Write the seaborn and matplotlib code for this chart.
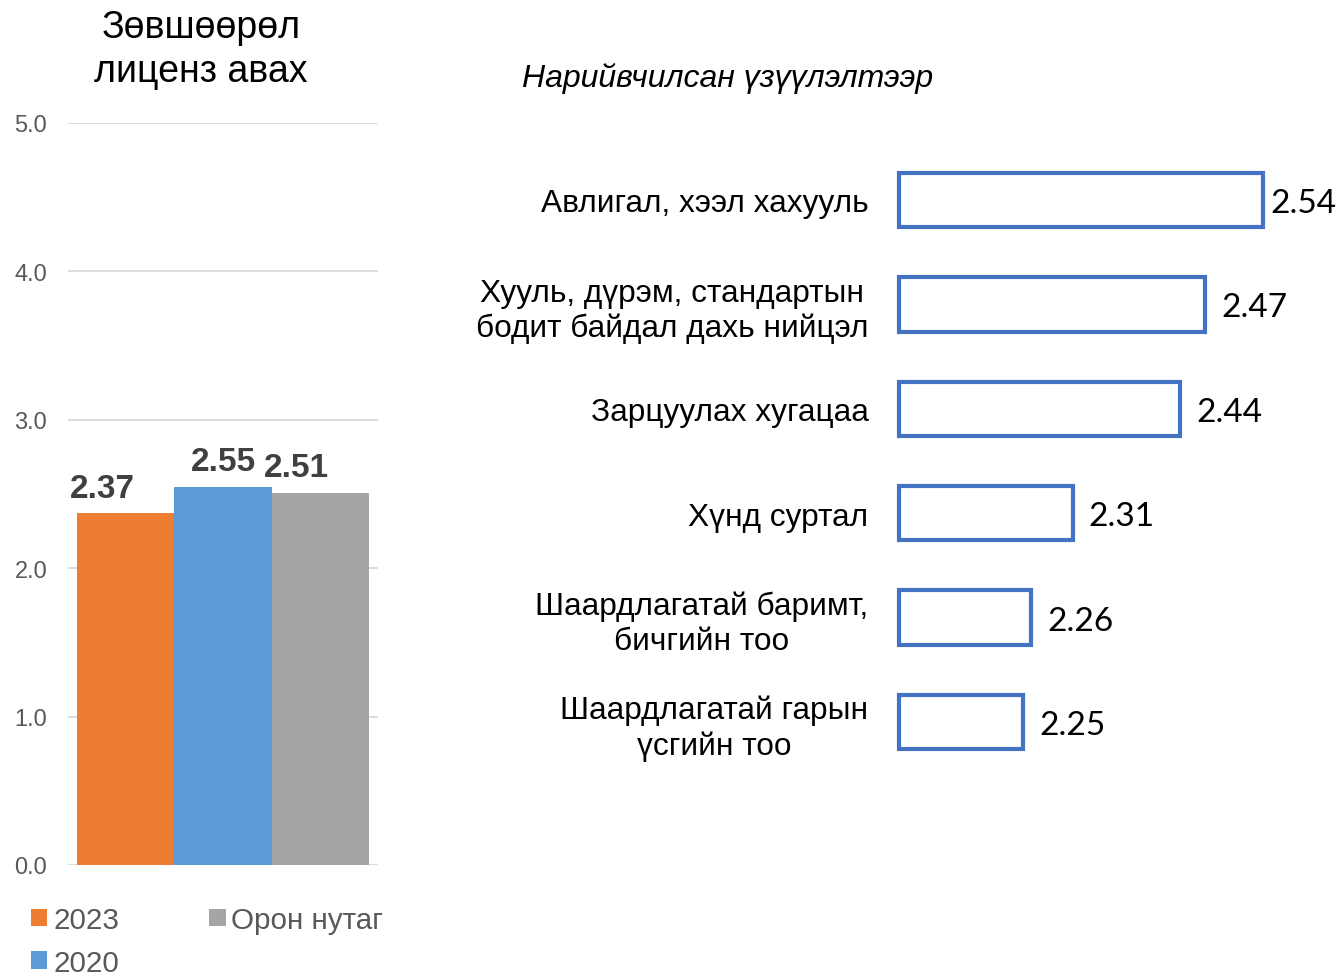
import matplotlib
matplotlib.use("Agg")
import matplotlib.pyplot as plt
import seaborn as sns
import pandas as pd
from matplotlib.patches import Patch

# ---- data ----
left_title = "Зөвшөөрөл\nлиценз авах"
series = ["2023", "2020", "Орон нутаг"]
series_values = [2.37, 2.55, 2.51]
series_colors = ["#ED7D31", "#5B9BD5", "#A5A5A5"]
yticks_left = [0.0, 1.0, 2.0, 3.0, 4.0, 5.0]

right_title = "Нарийвчилсан үзүүлэлтээр"
categories = [
    "Авлигал, хээл хахууль",
    "Хууль, дүрэм, стандартын\nбодит байдал дахь нийцэл",
    "Зарцуулах хугацаа",
    "Хүнд суртал",
    "Шаардлагатай баримт,\nбичгийн тоо",
    "Шаардлагатай гарын\nүсгийн тоо",
]
cat_values = [2.54, 2.47, 2.44, 2.31, 2.26, 2.25]
axis_start = 2.1

sns.set_theme(style="white")
plt.rcParams["font.family"] = ["Liberation Sans", "DejaVu Sans"]

W, H = 1337, 979
fig = plt.figure(figsize=(W / 100, H / 100), dpi=100)

# ---- left chart ----
ax1 = fig.add_axes([68 / W, 1 - 866 / H, 310 / W, (866 - 124) / H])
df = pd.DataFrame({"series": series, "value": series_values})
sns.barplot(data=df, x="series", y="value", hue="series", palette=series_colors,
            width=1.0, legend=False, ax=ax1, saturation=1, linewidth=0)
ax1.set_xlim(-0.593, 2.593)
ax1.set_ylim(0, 5)
ax1.set_yticks(yticks_left)
ax1.set_yticklabels([f"{t:.1f}" for t in yticks_left], fontsize=17, color="#595959")
ax1.set_xticks([])
ax1.set_xlabel("")
ax1.set_ylabel("")
ax1.tick_params(axis="y", length=0, pad=15)
ax1.grid(axis="y", color="#D9D9D9", lw=1.3)
ax1.set_axisbelow(True)
for s in ax1.spines.values():
    s.set_visible(False)
# label shifts (points) mimic the original's overlap-avoiding placement
label_dx = [-17, 0, -17]
for p, v, dx in zip(ax1.patches, series_values, label_dx):
    ax1.annotate(f"{v:.2f}", (p.get_x() + p.get_width() / 2, v), xytext=(dx, 7),
                 textcoords="offset points", ha="center", va="bottom",
                 fontsize=24, fontweight="bold", color="#404040")

fig.text(201 / W, 1 - 50 / H, left_title, ha="center", va="center",
         fontsize=27, color="black", linespacing=1.25)

handles = [Patch(facecolor=c, edgecolor="none") for c in series_colors]
fig.legend(handles, series, loc="upper left", bbox_to_anchor=(31 / W, 1 - 907 / H),
           ncol=2, frameon=False, fontsize=21.3, labelcolor="#595959",
           handlelength=0.55, handleheight=0.55, handletextpad=0.2,
           columnspacing=3.05, labelspacing=0.5, borderpad=0, borderaxespad=0)

# ---- right chart ----
x_right = axis_start + (W - 899) / 827
ax2 = fig.add_axes([899 / W, 1 - 775.2 / H, (W - 899) / W, (775.2 - 148.8) / H])
ypos = list(range(len(categories)))
ax2.barh(ypos, [v - axis_start for v in cat_values], left=axis_start, height=0.52,
         facecolor="white", edgecolor="#4472C4", linewidth=3, clip_on=False)
ax2.set_xlim(axis_start, x_right)
ax2.set_ylim(len(categories) - 0.5, -0.5)
ax2.set_yticks(ypos)
ax2.set_yticklabels(categories, fontsize=22.8, color="black", multialignment="center",
                    linespacing=1.22)
ax2.tick_params(axis="y", length=0, pad=22)
ax2.set_xticks([])
ax2.grid(False)
for s in ax2.spines.values():
    s.set_visible(False)

# value labels
px_per_unit = 827
for y, v in zip(ypos, cat_values):
    end_px = 899 + (v - axis_start) * px_per_unit + 2
    x_px = min(end_px + 14, W - 67)
    xv = axis_start + (x_px - 899) / px_per_unit
    ax2.annotate(f"{v:.2f}", (xv, y), xytext=(0, -2.2), textcoords="offset points",
                 ha="left", va="center", fontsize=24,
                 family=["Lato", "DejaVu Sans"], color="black", annotation_clip=False)

fig.text(728 / W, 1 - 79 / H, right_title, ha="center", va="center",
         fontsize=23, style="italic", color="black")

fig.savefig("out.png", dpi=100)
